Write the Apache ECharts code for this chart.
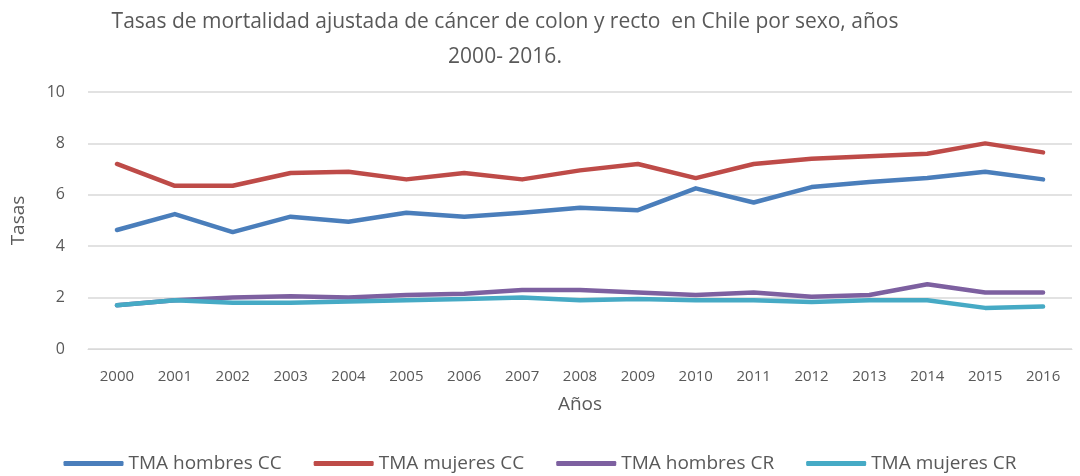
<!DOCTYPE html>
<html>
<head>
<meta charset="utf-8">
<script src="https://cdn.jsdelivr.net/npm/echarts@6/dist/echarts.min.js"></script>
<style>
  html, body { margin: 0; padding: 0; background: #fff; }
  #chart { width: 1080px; height: 476px; }
</style>
</head>
<body>
<div id="chart"></div>
<script>
  const years = ['2000', '2001', '2002', '2003', '2004', '2005', '2006', '2007', '2008',
    '2009', '2010', '2011', '2012', '2013', '2014', '2015', '2016']
  const hombresCC = [4.63, 5.25, 4.55, 5.15, 4.95, 5.3, 5.15, 5.3, 5.5, 5.4, 6.25, 5.7, 6.3, 6.5, 6.65, 6.9, 6.6]
  const mujeresCC = [7.2, 6.35, 6.35, 6.85, 6.9, 6.6, 6.85, 6.6, 6.95, 7.2, 6.65, 7.2, 7.4, 7.5, 7.6, 8.0, 7.65]
  const hombresCR = [1.7, 1.9, 2.0, 2.05, 2.0, 2.1, 2.15, 2.3, 2.3, 2.2, 2.1, 2.2, 2.03, 2.1, 2.52, 2.2, 2.2]
  const mujeresCR = [1.7, 1.9, 1.8, 1.8, 1.85, 1.9, 1.95, 2.0, 1.9, 1.95, 1.9, 1.9, 1.83, 1.9, 1.9, 1.6, 1.65]

  const font = 'Open Sans, DejaVu Sans, sans-serif'
  const textColor = '#595959'

  const chart = echarts.init(document.getElementById('chart'))

  const mkLine = (name, data, color) => ({
    name: name,
    type: 'line',
    data: data,
    symbol: 'none',
    smooth: false,
    lineStyle: { width: 4.5, color: color, cap: 'round', join: 'round' },
    itemStyle: { color: color }
  })

  chart.setOption({
    animation: false,
    title: {
      text: 'Tasas de mortalidad ajustada de cáncer de colon y recto  en Chile por sexo, años\n2000- 2016.',
      left: 500,
      top: 0,
      textAlign: 'center',
      textStyle: {
        fontFamily: font,
        fontSize: 21,
        fontWeight: 'normal',
        color: textColor,
        lineHeight: 35
      }
    },
    legend: {
      bottom: -2,
      left: 'center',
      itemWidth: 60,
      itemHeight: 5,
      itemGap: 32,
      icon: 'roundRect',
      textStyle: { fontFamily: font, fontSize: 19, color: textColor },
      data: ['TMA hombres CC', 'TMA mujeres CC', 'TMA hombres CR', 'TMA mujeres CR']
    },
    grid: {
      left: 88,
      right: 8,
      top: 92,
      bottom: 127
    },
    xAxis: {
      type: 'category',
      data: years,
      boundaryGap: true,
      name: 'Años',
      nameLocation: 'middle',
      nameGap: 46,
      nameTextStyle: { fontFamily: font, fontSize: 19, color: textColor },
      axisLine: { lineStyle: { color: '#d9d9d9', width: 1 } },
      axisTick: { show: false },
      axisLabel: { fontFamily: font, fontSize: 15, color: textColor, margin: 20, interval: 0 }
    },
    yAxis: {
      type: 'value',
      min: 0,
      max: 10,
      interval: 2,
      name: 'Tasas',
      nameLocation: 'middle',
      nameGap: 60,
      nameTextStyle: { fontFamily: font, fontSize: 19, color: textColor },
      axisLine: { show: false },
      axisTick: { show: false },
      axisLabel: { fontFamily: font, fontSize: 16, color: textColor, margin: 23 },
      splitLine: { lineStyle: { color: '#d9d9d9', width: 1.5 } }
    },
    series: [
      mkLine('TMA hombres CC', hombresCC, '#4a7ebb'),
      mkLine('TMA mujeres CC', mujeresCC, '#be4b48'),
      mkLine('TMA hombres CR', hombresCR, '#7d60a0'),
      mkLine('TMA mujeres CR', mujeresCR, '#46aac5')
    ]
  })
</script>
</body>
</html>
